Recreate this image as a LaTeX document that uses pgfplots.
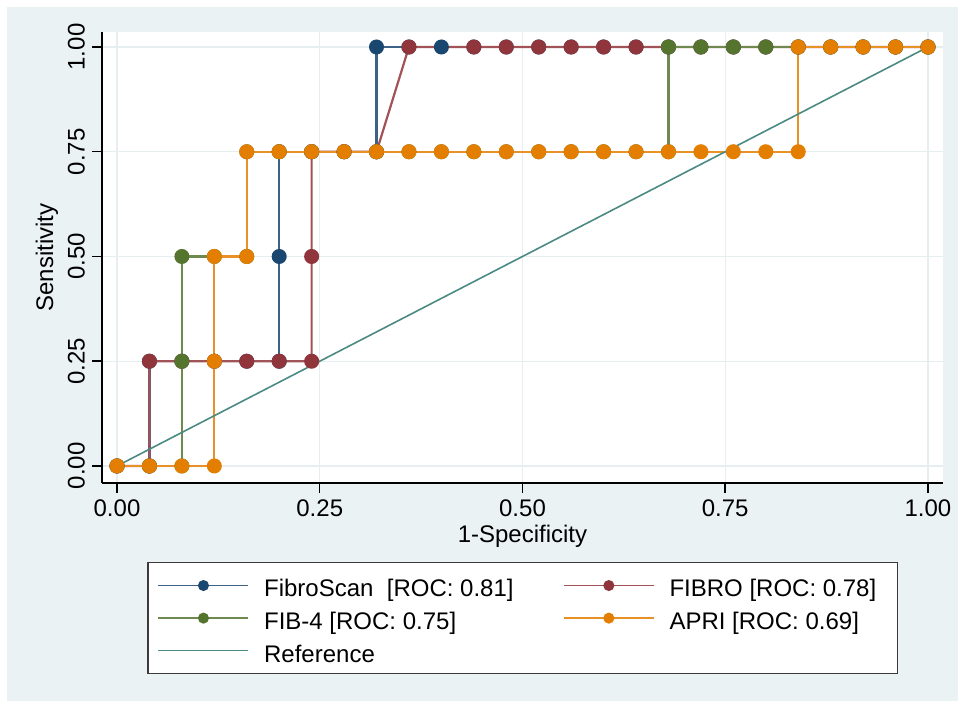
\documentclass[border=0pt]{standalone}
\usepackage{fontspec}
\setmainfont{Liberation Sans}
\usepackage{pgfplots}
\pgfplotsset{compat=1.18}
\definecolor{bggray}{HTML}{EAF2F3}
\definecolor{gridc}{HTML}{E6EEF0}
\definecolor{cnavy}{HTML}{1A476F}
\definecolor{cmaroon}{HTML}{90353B}
\definecolor{cgreen}{HTML}{55752F}
\definecolor{corange}{HTML}{E37E00}
\definecolor{cteal}{HTML}{4B8B84}
\definecolor{legborder}{HTML}{3A3A3A}
\begin{document}
\begin{tikzpicture}
\fill[white] (0,0) rectangle (479pt,350.5pt);
\fill[bggray] (3.5pt,0) rectangle (479pt,347pt);
\begin{axis}[
  scale only axis,
  width=420.5pt, height=225.5pt,
  at={(51pt,109pt)}, anchor=south west,
  xmin=-0.0185, xmax=1.0185, ymin=-0.0406, ymax=1.0358,
  axis x line*=bottom, axis y line*=left,
  axis line style={black, line width=0.75pt},
  axis background/.style={fill=white},
  xtick={0,0.25,0.5,0.75,1}, ytick={0,0.25,0.5,0.75,1},
  xticklabels={0.00,0.25,0.50,0.75,1.00},
  yticklabels={0.00,0.25,0.50,0.75,1.00},
  tick align=outside, major tick length=5pt,
  tick style={black, line width=0.75pt},
  grid=major, major grid style={gridc, line width=0.6pt},
  ticklabel style={font=\fontsize{12}{14.4}\selectfont},
  yticklabel style={rotate=90, anchor=south},
  label style={font=\fontsize{12}{14.4}\selectfont},
  xlabel={1-Specificity}, ylabel={Sensitivity},
  xlabel style={at={(axis description cs:0.5,-0.1175)}, anchor=center},
  ylabel style={at={(axis description cs:-0.0654,0.5)}, anchor=center},
  legend columns=2,
  legend style={at={(axis description cs:0.05351,-0.17517)}, anchor=north west,
    draw=legborder, line width=0.75pt, fill=white,
    inner xsep=0pt, inner ysep=4.25pt, column sep=0pt, row sep=2pt,
    nodes={inner sep=0pt},
    font=\fontsize{12}{14.4}\selectfont},
  legend cell align=left,
  legend image code/.code={
    \path (-5pt,0pt) (52.5pt,0pt);
    \draw[#1, mark repeat=2, mark phase=2] plot coordinates {(0pt,0pt)(22.5pt,0pt)(45pt,0pt)};
  },
  legend image post style={mark size=2.4pt, line width=0.7pt},
]
\addplot[color=cnavy!85!white, line width=1.1pt, mark=*, mark size=3.2pt, mark options={fill=cnavy, draw=cnavy}] coordinates {
(0,0)(0.04,0)(0.04,0.25)(0.08,0.25)(0.12,0.25)(0.16,0.25)(0.20,0.25)(0.20,0.5)(0.20,0.75)(0.24,0.75)(0.28,0.75)(0.32,0.75)(0.32,1)(0.36,1)(0.40,1)(0.44,1)(0.48,1)(0.52,1)(0.56,1)(0.60,1)(0.64,1)(0.68,1)(0.72,1)(0.76,1)(0.80,1)(0.84,1)(0.88,1)(0.92,1)(0.96,1)(1,1)};
\addlegendentry{\makebox[144.5pt][l]{\rule[-4.2pt]{0pt}{17pt}FibroScan\ \ [ROC: 0.81]}}
\addplot[color=cmaroon!85!white, line width=1.1pt, mark=*, mark size=3.2pt, mark options={fill=cmaroon, draw=cmaroon}] coordinates {
(0,0)(0.04,0)(0.04,0.25)(0.08,0.25)(0.12,0.25)(0.16,0.25)(0.20,0.25)(0.24,0.25)(0.24,0.5)(0.24,0.75)(0.28,0.75)(0.32,0.75)(0.36,1)(0.44,1)(0.48,1)(0.52,1)(0.56,1)(0.60,1)(0.64,1)(0.68,1)(0.72,1)(0.76,1)(0.80,1)(0.84,1)(0.88,1)(0.92,1)(0.96,1)(1,1)};
\addlegendentry{\makebox[114pt][l]{\rule[-4.2pt]{0pt}{17pt}FIBRO [ROC: 0.78]}}
\addplot[color=cgreen!85!white, line width=1.1pt, mark=*, mark size=3.2pt, mark options={fill=cgreen, draw=cgreen}] coordinates {
(0,0)(0.04,0)(0.08,0)(0.08,0.25)(0.08,0.5)(0.12,0.5)(0.16,0.5)(0.16,0.75)(0.20,0.75)(0.24,0.75)(0.28,0.75)(0.32,0.75)(0.36,0.75)(0.40,0.75)(0.44,0.75)(0.48,0.75)(0.52,0.75)(0.56,0.75)(0.60,0.75)(0.64,0.75)(0.68,0.75)(0.68,1)(0.72,1)(0.76,1)(0.80,1)(0.84,1)(0.88,1)(0.92,1)(0.96,1)(1,1)};
\addlegendentry{\makebox[144.5pt][l]{\rule[-4.2pt]{0pt}{17pt}FIB-4 [ROC: 0.75]}}
\addplot[color=corange!85!white, line width=1.1pt, mark=*, mark size=3.2pt, mark options={fill=corange, draw=corange}] coordinates {
(0,0)(0.04,0)(0.08,0)(0.12,0)(0.12,0.25)(0.12,0.5)(0.16,0.5)(0.16,0.75)(0.20,0.75)(0.24,0.75)(0.28,0.75)(0.32,0.75)(0.36,0.75)(0.40,0.75)(0.44,0.75)(0.48,0.75)(0.52,0.75)(0.56,0.75)(0.60,0.75)(0.64,0.75)(0.68,0.75)(0.72,0.75)(0.76,0.75)(0.80,0.75)(0.84,0.75)(0.84,1)(0.88,1)(0.92,1)(0.96,1)(1,1)};
\addlegendentry{\makebox[114pt][l]{\rule[-4.2pt]{0pt}{17pt}APRI [ROC: 0.69]}}
\addplot[color=cteal, line width=0.8pt, mark=none] coordinates {(0,0)(1,1)};
\addlegendentry{\makebox[144.5pt][l]{\rule[-4.2pt]{0pt}{17pt}Reference}}
\end{axis}
\end{tikzpicture}
\end{document}
